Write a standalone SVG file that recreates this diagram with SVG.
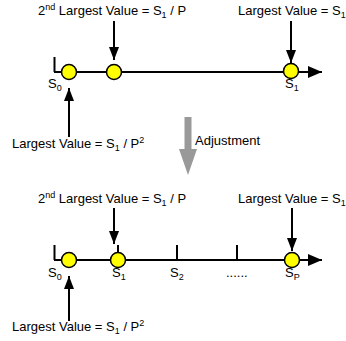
<svg xmlns="http://www.w3.org/2000/svg" width="346" height="341" viewBox="0 0 346 341">
<style>
text{font-family:"Liberation Sans",Arial,sans-serif;font-size:13px;fill:#000}
.ln{stroke:#000;stroke-width:2;fill:none}
.dot{fill:#ffff00;stroke:#000;stroke-width:1.5}
.sm{font-size:9px}
</style>
<defs>
<marker id="ah" markerUnits="userSpaceOnUse" markerWidth="14" markerHeight="10" refX="13" refY="5" orient="auto">
<path d="M0,0 L13,5 L0,10 z" fill="#000"/>
</marker>
<marker id="ax" markerUnits="userSpaceOnUse" markerWidth="15" markerHeight="12" refX="14" refY="6" orient="auto">
<path d="M0,0 L14,6 L0,12 z" fill="#000"/>
</marker>
</defs>
<rect width="346" height="341" fill="#fff"/>

<g id="connectors">
<line class="ln" x1="54" y1="72" x2="322" y2="72" marker-end="url(#ax)"/>
<line class="ln" x1="54.5" y1="57" x2="54.5" y2="72"/>
<line class="ln" x1="114" y1="21" x2="114" y2="60" marker-end="url(#ah)"/>
<line class="ln" x1="291" y1="21" x2="291" y2="63" marker-end="url(#ah)"/>
<line class="ln" x1="69" y1="137" x2="69" y2="88" marker-end="url(#ah)"/>

<line class="ln" x1="54" y1="260" x2="322" y2="260" marker-end="url(#ax)"/>
<line class="ln" x1="54.5" y1="245" x2="54.5" y2="260"/>
<line class="ln" x1="118" y1="245" x2="118" y2="260"/>
<line class="ln" x1="177" y1="245" x2="177" y2="261"/>
<line class="ln" x1="237" y1="245" x2="237" y2="261"/>
<line class="ln" x1="114" y1="208" x2="114" y2="244" marker-end="url(#ah)"/>
<line class="ln" x1="292" y1="208" x2="292" y2="251" marker-end="url(#ah)"/>
<line class="ln" x1="69" y1="321" x2="69" y2="276" marker-end="url(#ah)"/>

<polygon points="184.5,117 191.5,117 191.5,149 197,149 188,175 179,149 184.5,149" fill="#999"/>
</g>

<g id="top-axis">
<circle class="dot" cx="69" cy="72" r="7.5"/>
<circle class="dot" cx="114" cy="72" r="7.5"/>
<circle class="dot" cx="291" cy="71" r="7.5"/>
<text x="48" y="88">S<tspan class="sm" dy="3">0</tspan></text>
<text x="285" y="88">S<tspan class="sm" dy="3">1</tspan></text>
</g>

<g id="top-label-second">
<text x="38" y="15">2<tspan class="sm" dy="-5">nd</tspan><tspan dy="5"> Largest Value = S</tspan><tspan class="sm" dy="3">1</tspan><tspan dy="-3"> / P</tspan></text>
</g>
<g id="top-label-largest">
<text x="238" y="15">Largest Value = S<tspan class="sm" dy="3">1</tspan></text>
</g>
<g id="top-label-smallest">
<text x="12" y="148">Largest Value = S<tspan class="sm" dy="3">1</tspan><tspan dy="-3"> / P</tspan><tspan class="sm" dy="-5">2</tspan></text>
</g>

<g id="adjustment">
<text x="195" y="145">Adjustment</text>
</g>

<g id="bottom-label-second">
<text x="38" y="203">2<tspan class="sm" dy="-5">nd</tspan><tspan dy="5"> Largest Value = S</tspan><tspan class="sm" dy="3">1</tspan><tspan dy="-3"> / P</tspan></text>
</g>
<g id="bottom-label-largest">
<text x="238" y="203">Largest Value = S<tspan class="sm" dy="3">1</tspan></text>
</g>

<g id="bottom-axis">
<circle class="dot" cx="69" cy="260" r="7.5"/>
<circle class="dot" cx="118" cy="260" r="7.5"/>
<circle class="dot" cx="292" cy="260" r="7.5"/>
<text x="48" y="277">S<tspan class="sm" dy="3">0</tspan></text>
<text x="112" y="277">S<tspan class="sm" dy="3">1</tspan></text>
<text x="170" y="277">S<tspan class="sm" dy="3">2</tspan></text>
<text x="226" y="277">......</text>
<text x="285" y="277">S<tspan class="sm" dy="3">P</tspan></text>
</g>

<g id="bottom-label-smallest">
<text x="12" y="331">Largest Value = S<tspan class="sm" dy="3">1</tspan><tspan dy="-3"> / P</tspan><tspan class="sm" dy="-5">2</tspan></text>
</g>
</svg>
